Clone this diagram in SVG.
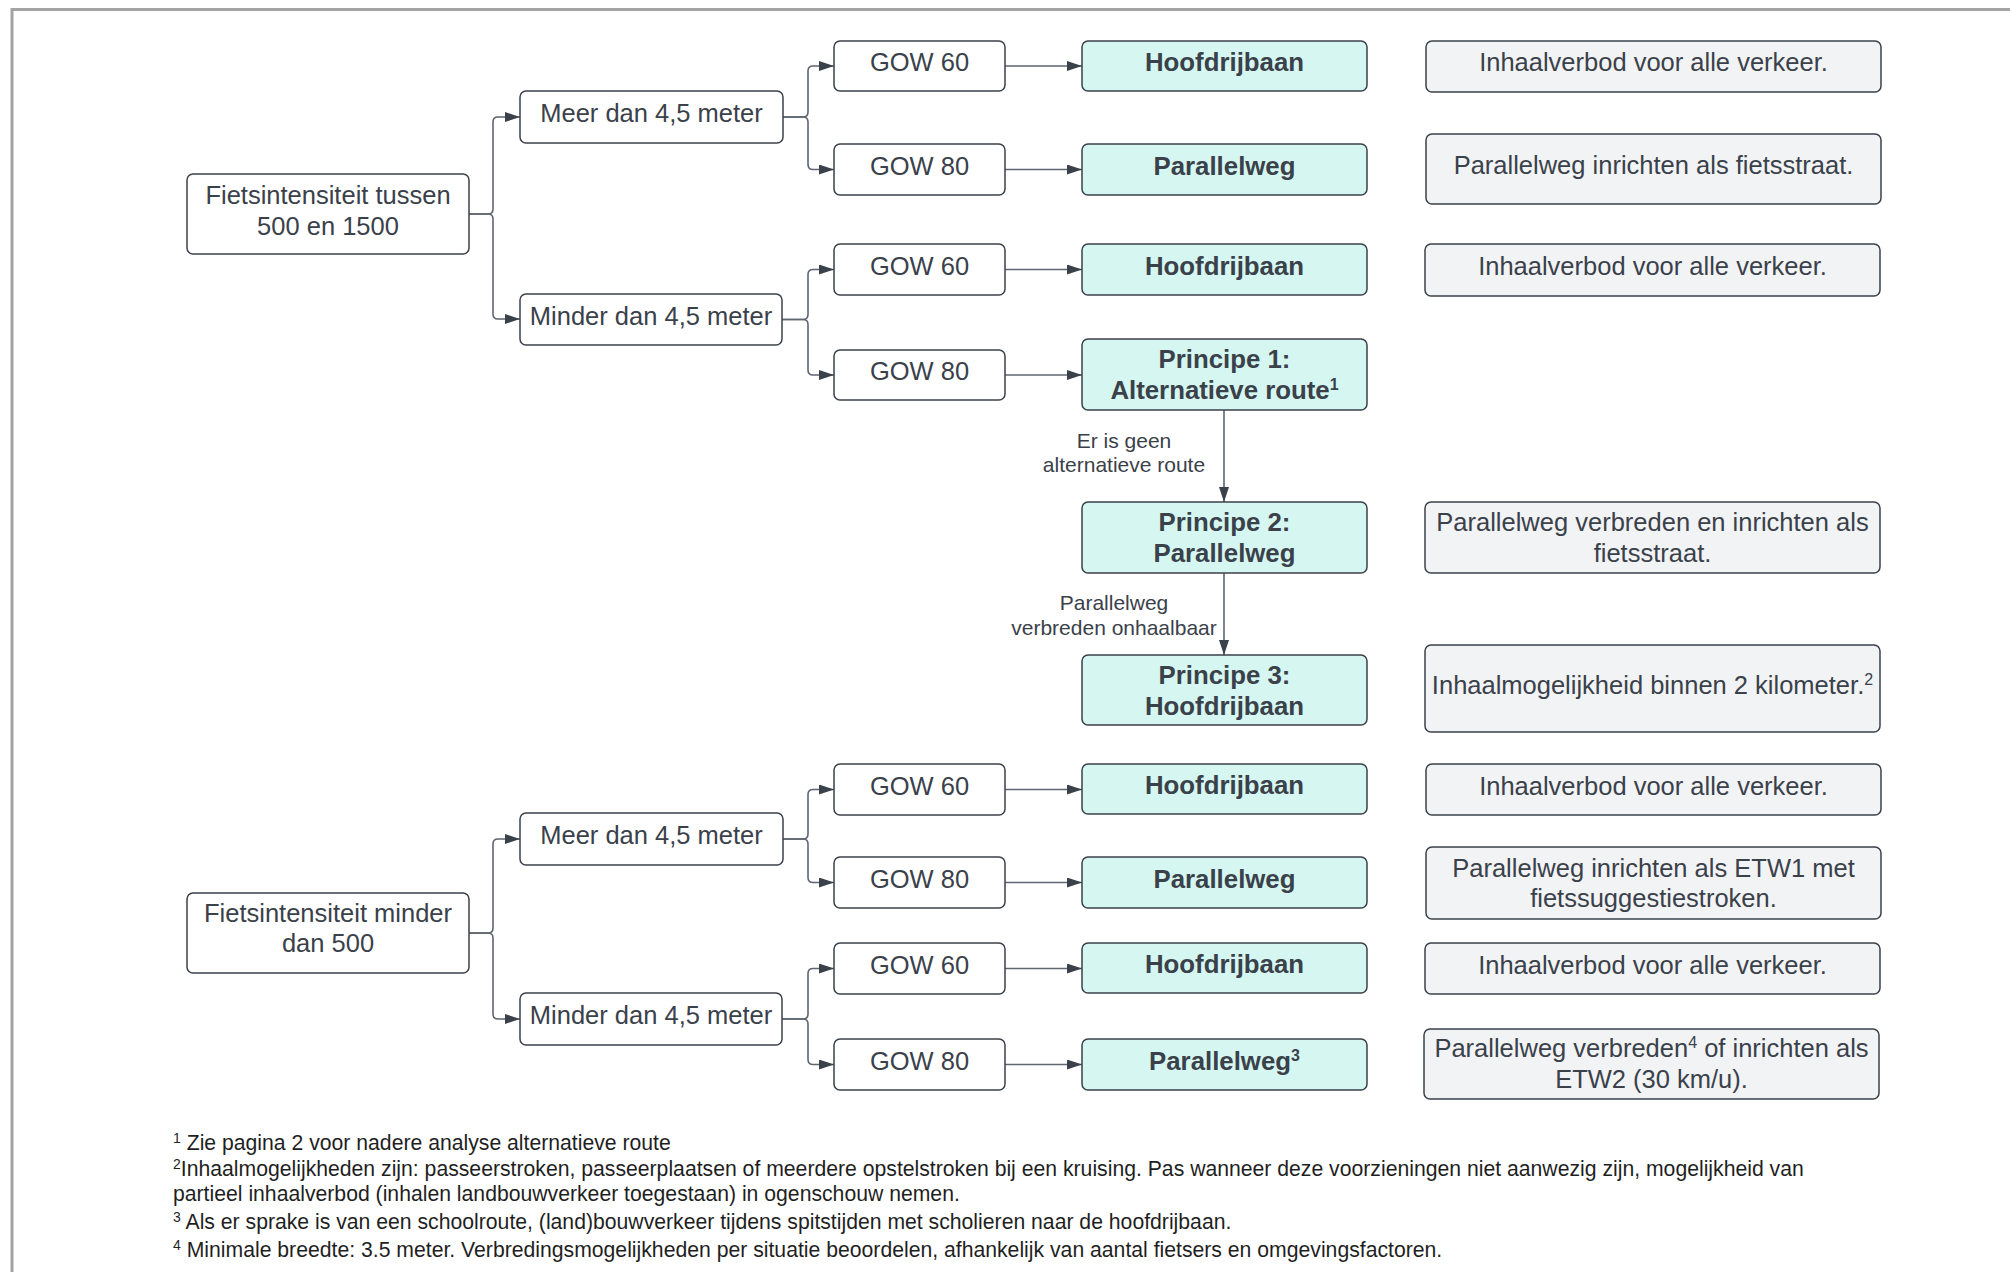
<svg xmlns="http://www.w3.org/2000/svg" width="2010" height="1272" viewBox="0 0 2010 1272">
<style>
  text { font-family: "Liberation Sans", Arial, sans-serif; fill: #3a414a; }
  .n { font-size: 25.5px; text-anchor: middle; }
  .b { font-weight: bold; font-size: 25.8px; }
  .lbl { font-size: 21px; text-anchor: middle; }
  .fn { font-size: 21.2px; fill: #1f1f1f; }
  .box { fill: #ffffff; stroke: #3a414a; stroke-width: 1.5; }
  .teal { fill: #d6f7f1; stroke: #3a414a; stroke-width: 1.5; }
  .grey { fill: #f2f3f5; stroke: #3a414a; stroke-width: 1.5; }
  .c { fill: none; stroke: #5f6670; stroke-width: 1.6; marker-end: url(#ah); }
  .frame { stroke: #a3a3a3; stroke-width: 3; fill: none; }
</style>
<defs>
  <marker id="ah" markerUnits="userSpaceOnUse" markerWidth="15" markerHeight="10" refX="15" refY="5" orient="auto">
    <path d="M0,0 L15,5 L0,10 z" fill="#3a414a"/>
  </marker>
</defs>
<rect width="2010" height="1272" fill="#ffffff"/>
<path class="frame" d="M12,1272 V9.5 H2010"/>

<g id="connectors">
  <path class="c" d="M469,214 H488 Q493,214 493,209 V122 Q493,117 498,117 H520"/>
  <path class="c" d="M469,214 H488 Q493,214 493,219 V314 Q493,319 498,319 H520"/>
  <path class="c" d="M783,117 H803 Q808,117 808,112 V71 Q808,66 813,66 H834"/>
  <path class="c" d="M783,117 H803 Q808,117 808,122 V164.5 Q808,169.5 813,169.5 H834"/>
  <path class="c" d="M782,319.5 H803 Q808,319.5 808,314.5 V274.5 Q808,269.5 813,269.5 H834"/>
  <path class="c" d="M782,319.5 H803 Q808,319.5 808,324.5 V370 Q808,375 813,375 H834"/>
  <path class="c" d="M1005,66 H1082"/>
  <path class="c" d="M1005,169.5 H1082"/>
  <path class="c" d="M1005,269.5 H1082"/>
  <path class="c" d="M1005,375 H1082"/>
  <path class="c" d="M1224,410 V502"/>
  <path class="c" d="M1224,573 V655"/>
  <path class="c" d="M469,933 H488 Q493,933 493,928 V844 Q493,839 498,839 H520"/>
  <path class="c" d="M469,933 H488 Q493,933 493,938 V1014 Q493,1019 498,1019 H520"/>
  <path class="c" d="M783,839 H803 Q808,839 808,834 V794.5 Q808,789.5 813,789.5 H834"/>
  <path class="c" d="M783,839 H803 Q808,839 808,844 V877.5 Q808,882.5 813,882.5 H834"/>
  <path class="c" d="M782,1019 H803 Q808,1019 808,1014 V973.5 Q808,968.5 813,968.5 H834"/>
  <path class="c" d="M782,1019 H803 Q808,1019 808,1024 V1059.5 Q808,1064.5 813,1064.5 H834"/>
  <path class="c" d="M1005,789.5 H1082"/>
  <path class="c" d="M1005,882.5 H1082"/>
  <path class="c" d="M1005,968.5 H1082"/>
  <path class="c" d="M1005,1064.5 H1082"/>
  <text class="lbl" x="1124" y="448">Er is geen</text>
  <text class="lbl" x="1124" y="472">alternatieve route</text>
  <text class="lbl" x="1114" y="610">Parallelweg</text>
  <text class="lbl" x="1114" y="635">verbreden onhaalbaar</text>
</g>

<g id="n-fiets-tussen"><rect class="box" x="187" y="174" width="282" height="80" rx="6"/>
  <text class="n" x="328" y="204">Fietsintensiteit tussen</text><text class="n" x="328" y="235">500 en 1500</text></g>
<g id="n-meer-1"><rect class="box" x="520" y="91" width="263" height="52" rx="6"/>
  <text class="n" x="651.5" y="122">Meer dan 4,5 meter</text></g>
<g id="n-minder-1"><rect class="box" x="520" y="294" width="262" height="51" rx="6"/>
  <text class="n" x="651" y="324.5">Minder dan 4,5 meter</text></g>
<g id="n-gow60-1"><rect class="box" x="834" y="41" width="171" height="50" rx="6"/>
  <text class="n" x="919.5" y="71">GOW 60</text></g>
<g id="n-gow80-1"><rect class="box" x="834" y="144" width="171" height="51" rx="6"/>
  <text class="n" x="919.5" y="174.5">GOW 80</text></g>
<g id="n-gow60-2"><rect class="box" x="834" y="244" width="171" height="51" rx="6"/>
  <text class="n" x="919.5" y="274.5">GOW 60</text></g>
<g id="n-gow80-2"><rect class="box" x="834" y="350" width="171" height="50" rx="6"/>
  <text class="n" x="919.5" y="380">GOW 80</text></g>
<g id="n-hoofd-1"><rect class="teal" x="1082" y="41" width="285" height="50" rx="6"/>
  <text class="n b" x="1224.5" y="71">Hoofdrijbaan</text></g>
<g id="n-par-1"><rect class="teal" x="1082" y="144" width="285" height="51" rx="6"/>
  <text class="n b" x="1224.5" y="174.5">Parallelweg</text></g>
<g id="n-hoofd-2"><rect class="teal" x="1082" y="244" width="285" height="51" rx="6"/>
  <text class="n b" x="1224.5" y="274.5">Hoofdrijbaan</text></g>
<g id="n-principe1"><rect class="teal" x="1082" y="339" width="285" height="71" rx="6"/>
  <text class="n b" x="1224.5" y="368">Principe 1:</text>
  <text class="n b" x="1224.5" y="399">Alternatieve route<tspan font-size="16" dy="-9">1</tspan></text></g>
<g id="n-principe2"><rect class="teal" x="1082" y="502" width="285" height="71" rx="6"/>
  <text class="n b" x="1224.5" y="531">Principe 2:</text><text class="n b" x="1224.5" y="562">Parallelweg</text></g>
<g id="n-principe3"><rect class="teal" x="1082" y="655" width="285" height="70" rx="6"/>
  <text class="n b" x="1224.5" y="683.5">Principe 3:</text><text class="n b" x="1224.5" y="714.5">Hoofdrijbaan</text></g>
<g id="n-r1"><rect class="grey" x="1426" y="41" width="455" height="51" rx="6"/>
  <text class="n" x="1653.5" y="71">Inhaalverbod voor alle verkeer.</text></g>
<g id="n-r2"><rect class="grey" x="1426" y="134" width="455" height="70" rx="6"/>
  <text class="n" x="1653.5" y="174">Parallelweg inrichten als fietsstraat.</text></g>
<g id="n-r3"><rect class="grey" x="1425" y="244" width="455" height="52" rx="6"/>
  <text class="n" x="1652.5" y="275">Inhaalverbod voor alle verkeer.</text></g>
<g id="n-r4"><rect class="grey" x="1425" y="502" width="455" height="71" rx="6"/>
  <text class="n" x="1652.5" y="531">Parallelweg verbreden en inrichten als</text><text class="n" x="1652.5" y="562">fietsstraat.</text></g>
<g id="n-r5"><rect class="grey" x="1425" y="645" width="455" height="87" rx="6"/>
  <text class="n" x="1652.5" y="694">Inhaalmogelijkheid binnen 2 kilometer.<tspan font-size="16" dy="-9">2</tspan></text></g>

<g id="n-fiets-minder"><rect class="box" x="187" y="893" width="282" height="80" rx="6"/>
  <text class="n" x="328" y="922">Fietsintensiteit minder</text><text class="n" x="328" y="952">dan 500</text></g>
<g id="n-meer-2"><rect class="box" x="520" y="813" width="263" height="52" rx="6"/>
  <text class="n" x="651.5" y="844">Meer dan 4,5 meter</text></g>
<g id="n-minder-2"><rect class="box" x="520" y="993" width="262" height="52" rx="6"/>
  <text class="n" x="651" y="1024">Minder dan 4,5 meter</text></g>
<g id="n-gow60-3"><rect class="box" x="834" y="764" width="171" height="51" rx="6"/>
  <text class="n" x="919.5" y="794.5">GOW 60</text></g>
<g id="n-gow80-3"><rect class="box" x="834" y="857" width="171" height="51" rx="6"/>
  <text class="n" x="919.5" y="887.5">GOW 80</text></g>
<g id="n-gow60-4"><rect class="box" x="834" y="943" width="171" height="51" rx="6"/>
  <text class="n" x="919.5" y="973.5">GOW 60</text></g>
<g id="n-gow80-4"><rect class="box" x="834" y="1039" width="171" height="51" rx="6"/>
  <text class="n" x="919.5" y="1069.5">GOW 80</text></g>
<g id="n-hoofd-3"><rect class="teal" x="1082" y="764" width="285" height="50" rx="6"/>
  <text class="n b" x="1224.5" y="794">Hoofdrijbaan</text></g>
<g id="n-par-3"><rect class="teal" x="1082" y="857" width="285" height="51" rx="6"/>
  <text class="n b" x="1224.5" y="887.5">Parallelweg</text></g>
<g id="n-hoofd-4"><rect class="teal" x="1082" y="943" width="285" height="50" rx="6"/>
  <text class="n b" x="1224.5" y="973">Hoofdrijbaan</text></g>
<g id="n-par-4"><rect class="teal" x="1082" y="1039" width="285" height="51" rx="6"/>
  <text class="n b" x="1224.5" y="1069.5">Parallelweg<tspan font-size="16" dy="-9">3</tspan></text></g>
<g id="n-r6"><rect class="grey" x="1426" y="764" width="455" height="51" rx="6"/>
  <text class="n" x="1653.5" y="794.5">Inhaalverbod voor alle verkeer.</text></g>
<g id="n-r7"><rect class="grey" x="1426" y="847" width="455" height="72" rx="6"/>
  <text class="n" x="1653.5" y="876.5">Parallelweg inrichten als ETW1 met</text><text class="n" x="1653.5" y="906.5">fietssuggestiestroken.</text></g>
<g id="n-r8"><rect class="grey" x="1425" y="943" width="455" height="51" rx="6"/>
  <text class="n" x="1652.5" y="973.5">Inhaalverbod voor alle verkeer.</text></g>
<g id="n-r9"><rect class="grey" x="1424" y="1029" width="455" height="70" rx="6"/>
  <text class="n" x="1651.5" y="1057">Parallelweg verbreden<tspan font-size="16" dy="-9">4</tspan><tspan dy="9"> of inrichten als</tspan></text>
  <text class="n" x="1651.5" y="1088">ETW2 (30 km/u).</text></g>

<g id="footnotes">
  <text class="fn" x="173" y="1150"><tspan font-size="14" dy="-7">1</tspan><tspan dy="7"> Zie pagina 2 voor nadere analyse alternatieve route</tspan></text>
  <text class="fn" x="173" y="1176"><tspan font-size="14" dy="-7">2</tspan><tspan dy="7">Inhaalmogelijkheden zijn: passeerstroken, passeerplaatsen of meerdere opstelstroken bij een kruising. Pas wanneer deze voorzieningen niet aanwezig zijn, mogelijkheid van</tspan></text>
  <text class="fn" x="173" y="1201">partieel inhaalverbod (inhalen landbouwverkeer toegestaan) in ogenschouw nemen.</text>
  <text class="fn" x="173" y="1229"><tspan font-size="14" dy="-7">3</tspan><tspan dy="7"> Als er sprake is van een schoolroute, (land)bouwverkeer tijdens spitstijden met scholieren naar de hoofdrijbaan.</tspan></text>
  <text class="fn" x="173" y="1257"><tspan font-size="14" dy="-7">4</tspan><tspan dy="7"> Minimale breedte: 3.5 meter. Verbredingsmogelijkheden per situatie beoordelen, afhankelijk van aantal fietsers en omgevingsfactoren.</tspan></text>
</g>
</svg>
